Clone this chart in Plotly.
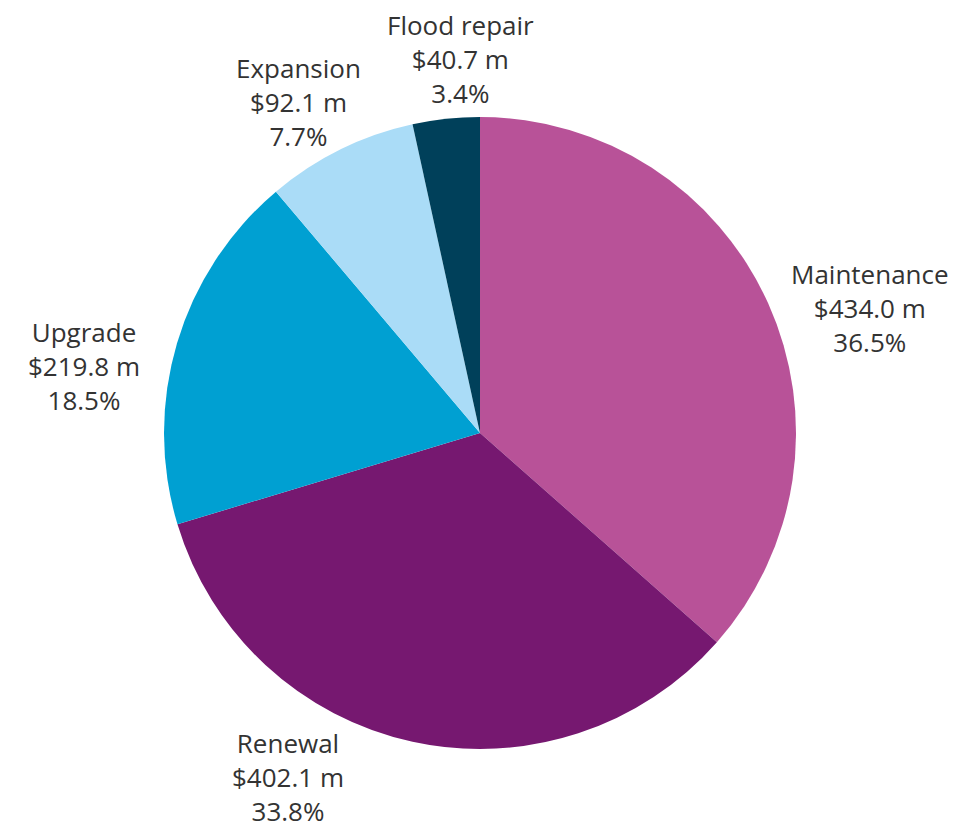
import math
import plotly.graph_objects as go

categories = ["Maintenance", "Renewal", "Upgrade", "Expansion", "Flood repair"]
values = [434.0, 402.1, 219.8, 92.1, 40.7]
colors = ["#B85298", "#761870", "#00A0D2", "#AADCF7", "#00405A"]

PAGE_W, PAGE_H = 973, 830
BODY = 8                            # default page body margin
W, H = PAGE_W - BODY, PAGE_H - BODY  # figure size
CX, CY, R = 480 - BODY, 433 - BODY, 316   # pie centre and radius (figure px)
GAP = 20                            # distance of label anchor outside the rim
# small per-label nudges (pixels, +x right, +y down) for legibility
NUDGE = {"Maintenance": (4, 13), "Renewal": (-120, -37), "Upgrade": (-17, 28),
         "Expansion": (31, 23), "Flood repair": (17, 13)}

fig = go.Figure(go.Pie(
    labels=categories,
    values=values,
    sort=False,
    direction="clockwise",
    rotation=0,
    marker=dict(colors=colors, line=dict(width=0)),
    textinfo="none",
    showlegend=False,
    hoverinfo="skip",
    domain=dict(x=[(CX - R) / W, (CX + R) / W],
                y=[1 - (CY + R) / H, 1 - (CY - R) / H]),
))

total = sum(values)
cum = 0.0
annotations = []
for name, v in zip(categories, values):
    mid = (cum + v / 2) / total
    cum += v
    theta = 2 * math.pi * mid
    sx, sy = math.sin(theta), -math.cos(theta)
    px = CX + (R + GAP) * sx
    py = CY + (R + GAP) * sy
    xanchor = "left" if sx > 0.3 else ("right" if sx < -0.3 else "center")
    yanchor = "top" if sy > 0.5 else ("bottom" if sy < -0.5 else "middle")
    dx, dy = NUDGE[name]
    px += dx
    py += dy
    pct = v / total * 100
    annotations.append(dict(
        x=px / W, y=1 - py / H, xref="paper", yref="paper",
        xanchor=xanchor, yanchor=yanchor, showarrow=False, align="center",
        borderpad=0,
        text=f"{name}<br>${v:.1f} m<br>{pct:.1f}%",
        font=dict(family="Open Sans", size=26, color="#333333"),
    ))

fig.update_layout(
    width=W, height=H,
    margin=dict(l=0, r=0, t=0, b=0),
    paper_bgcolor="white",
    plot_bgcolor="white",
    annotations=annotations,
)

fig.write_html("out.html")
